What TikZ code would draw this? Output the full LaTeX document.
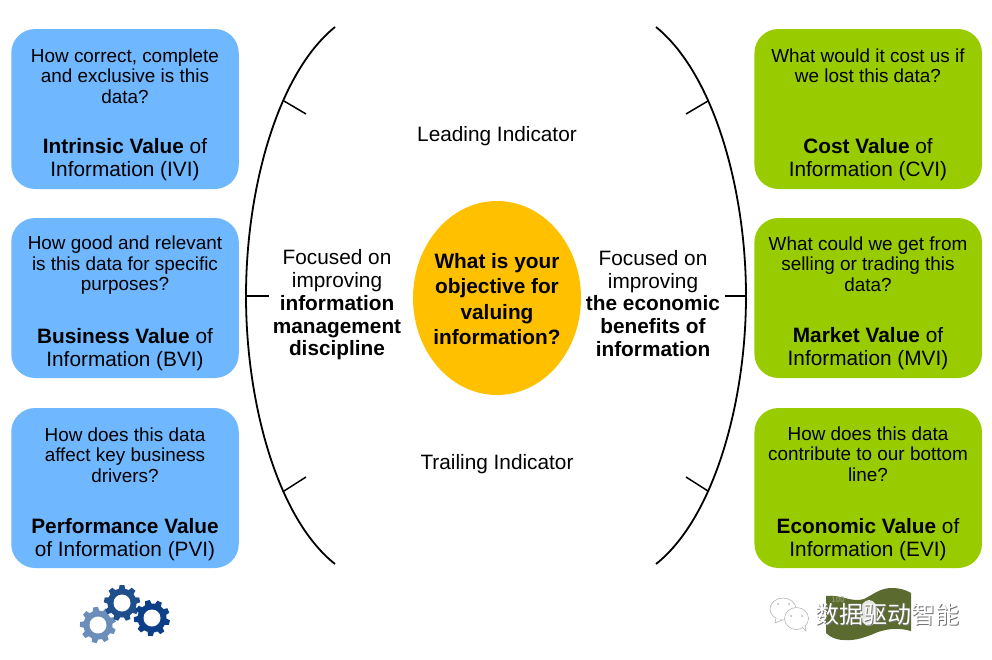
\documentclass[tikz,border=0pt]{standalone}
\usepackage{fontspec}
\usetikzlibrary{shapes.geometric}
\setmainfont{Liberation Sans}
\newfontfamily\cjkfont{Noto Sans CJK SC}
\definecolor{bluebox}{HTML}{6FB7FF}
\definecolor{greenbox}{HTML}{99CC00}
\definecolor{orangeball}{HTML}{FFC000}
\definecolor{moneygreen}{HTML}{5B6A2F}
\definecolor{moneylight}{HTML}{8A9664}
\definecolor{gearlight}{HTML}{6A8DBA}
\definecolor{gearmid}{HTML}{1F4E8C}
\definecolor{geardark}{HTML}{0C3F88}
\definecolor{bubblegrey}{HTML}{B5B5B5}
\newcommand{\gearshape}[5]{% name, x, y, colour, start angle
  \coordinate (#1) at (#2,#3);
  \fill[#4] (#1) circle[radius=14.5];
  \foreach \ang in {0,40,...,320}{
    \fill[#4,shift={(#1)},rotate=\ang+#5] (-3.4,-13) -- (-2.4,-18) -- (2.4,-18) -- (3.4,-13) -- cycle;
  }
  \fill[white] (#1) circle[radius=8.5];
}
\tikzset{
  x=1pt,y=-1pt,
  infobox/.style={rounded corners=24pt,minimum width=227.5pt,minimum height=160pt,draw=none,inner sep=0pt},
  bluecard/.style={infobox,fill=bluebox},
  greencard/.style={infobox,fill=greenbox},
  boxtext/.style={align=center,font=\fontsize{18.9}{20.4}\selectfont,inner sep=0pt,anchor=center},
  boxname/.style={align=center,font=\fontsize{20.8}{23}\selectfont,inner sep=0pt,anchor=center},
  sidetext/.style={align=center,font=\fontsize{20.8}{22.8}\selectfont,inner sep=0pt},
  curveline/.style={draw=black,line width=1.8pt},
  tickline/.style={draw=black,line width=1.5pt},
  bubble/.style={draw=bubblegrey,line width=0.6pt,fill=white},
}
\begin{document}
\begin{tikzpicture}
\useasboundingbox (0,0) rectangle (992,659);
% cards
\node[bluecard] (b1) at (125,109) {};
\node[bluecard] (b2) at (125,298) {};
\node[bluecard] (b3) at (125,488) {};
\node[greencard] (g1) at (868.2,109) {};
\node[greencard] (g2) at (868.2,298) {};
\node[greencard] (g3) at (868.2,488) {};
% card text
\node[boxtext] (b1q) at (125,76) {How correct, complete\\and exclusive is this\\data?};
\node[boxname] (b1n) at (125,159.5) {\textbf{Intrinsic Value} of\\Information (IVI)};
\node[boxtext] (b2q) at (125,265.5) {How good and relevant\\is this data for specific\\purposes?};
\node[boxname] (b2n) at (125,349.5) {\textbf{Business Value} of\\Information (BVI)};
\node[boxtext] (b3q) at (125,455) {How does this data\\affect key business\\drivers?};
\node[boxname] (b3n) at (125,539.5) {\textbf{Performance Value}\\of Information (PVI)};
\node[boxtext] (g1q) at (868,66) {What would it cost us if\\we lost this data?};
\node[boxname] (g1n) at (868,159.5) {\textbf{Cost Value} of\\Information (CVI)};
\node[boxtext] (g2q) at (868,264) {What could we get from\\selling or trading this\\data?};
\node[boxname] (g2n) at (868,349) {\textbf{Market Value} of\\Information (MVI)};
\node[boxtext] (g3q) at (868,454) {How does this data\\contribute to our bottom\\line?};
\node[boxname] (g3n) at (868,539.5) {\textbf{Economic Value} of\\Information (EVI)};
% centre
\node[ellipse,fill=orangeball,minimum width=168pt,minimum height=194pt,inner sep=0pt] (ball) at (497,298) {};
\node[sidetext,font=\fontsize{20.8}{25.4}\selectfont\bfseries] (balltext) at (497,299) {What is your\\objective for\\valuing\\information?};
\node[sidetext] (lead) at (497,136) {Leading Indicator};
\node[sidetext] (trail) at (497,464) {Trailing Indicator};
\node[sidetext] (leftt) at (337,305) {Focused on\\improving\\\textbf{information}\\\textbf{management}\\\textbf{discipline}};
\node[sidetext] (rightt) at (653,303.5) {Focused on\\improving\\\textbf{the economic}\\\textbf{benefits of}\\\textbf{information}};
% curves
\coordinate (ltop) at (335,27);
\coordinate (lmid) at (246,296);
\coordinate (lbot) at (335,564);
\coordinate (rtop) at (656,27);
\coordinate (rmid) at (746,296);
\coordinate (rbot) at (656,564);
\draw[curveline] (ltop) .. controls (277,74) and (246,190) .. (lmid) .. controls (246,402) and (277,518) .. (lbot);
\draw[curveline] (rtop) .. controls (714,74) and (746,190) .. (rmid) .. controls (746,402) and (714,518) .. (rbot);
% ticks
\coordinate (t1a) at (284,101); \coordinate (t1b) at (306,114);
\coordinate (t2a) at (246,296); \coordinate (t2b) at (269,296);
\coordinate (t3a) at (284,491); \coordinate (t3b) at (306,477);
\coordinate (t4a) at (708,101); \coordinate (t4b) at (686,114);
\coordinate (t5a) at (746,296); \coordinate (t5b) at (725,296);
\coordinate (t6a) at (708,491); \coordinate (t6b) at (686,477);
\draw[tickline] (t1a) -- (t1b);
\draw[tickline] (t2a) -- (t2b);
\draw[tickline] (t3a) -- (t3b);
\draw[tickline] (t4a) -- (t4b);
\draw[tickline] (t5a) -- (t5b);
\draw[tickline] (t6a) -- (t6b);
% gears
\gearshape{gearA}{98}{625}{gearlight}{8}
\gearshape{gearB}{122}{603}{gearmid}{0}
\gearshape{gearC}{152}{618}{geardark}{15}
% banknote
\fill[moneygreen] (826,596) .. controls (840,594) and (852,603) .. (864,599)
  .. controls (874,594) and (880,588) .. (892,588)
  .. controls (900,588) and (906,590) .. (911,593)
  -- (911,631) .. controls (900,628) and (890,628) .. (878,632)
  .. controls (866,637) and (856,641) .. (844,640)
  .. controls (836,640) and (830,637) .. (826,633) -- cycle;
\fill[white!85!moneygreen] (869,613) ellipse[x radius=9,y radius=13];
\node[inner sep=0pt,text=moneylight,font=\bfseries\fontsize{8}{8}\selectfont] (noteA) at (838,600) {100};
% watermark bubbles
\fill[bubble] (783,609) ellipse[x radius=13,y radius=11];
\draw[bubble] (776,618) -- (775,623) -- (782,620);
\fill[bubble] (796.5,618.5) ellipse[x radius=12,y radius=11];
\draw[bubble] (802,627) -- (806,631) -- (805,625);
\fill[bubblegrey] (778,604) circle[radius=1] (789,604) circle[radius=1] (791,616) circle[radius=1] (802,616) circle[radius=1];
\node[inner sep=0pt,font=\cjkfont\fontsize{24}{24}\selectfont,text=white] (markshadow) at (888.5,615.5) {\textcolor{black!55}{数据驱动智能}};
\node[inner sep=0pt,font=\cjkfont\fontsize{24}{24}\selectfont,text=white] (mark) at (887.5,614.5) {数据驱动智能};
\end{tikzpicture}
\end{document}
